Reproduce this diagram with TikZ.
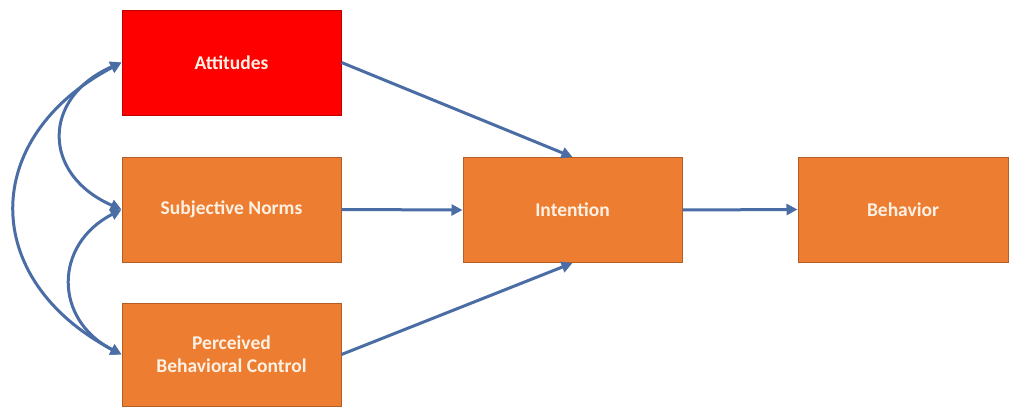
\documentclass[tikz,border=0pt]{standalone}
\usepackage{fontspec}
\setmainfont{Carlito}
\usetikzlibrary{arrows.meta}
\definecolor{boxorange}{HTML}{ED7D31}
\definecolor{boxorangeedge}{HTML}{B45E25}
\definecolor{boxred}{HTML}{FF0000}
\definecolor{boxrededge}{HTML}{C00000}
\definecolor{arrowblue}{HTML}{4A6DA6}
\definecolor{txtcream}{HTML}{FDF1E4}
\tikzset{
  box/.style={rectangle, fill=boxorange, draw=boxorangeedge, line width=1pt,
    minimum width=219pt, minimum height=105pt, inner sep=0pt,
    text=txtcream, font=\fontsize{19.5}{23}\selectfont\bfseries, align=center},
  redbox/.style={box, fill=boxred, draw=boxrededge},
  conn/.style={draw=arrowblue, line width=3pt,
    -{Triangle[length=11pt,width=11pt]}},
  biconn/.style={draw=arrowblue, line width=3pt,
    {Triangle[length=11pt,width=11pt]}-{Triangle[length=11pt,width=11pt]}}
}
\begin{document}
\begin{tikzpicture}[x=1pt,y=-1pt]
\useasboundingbox (0,0) rectangle (1010,407);
\fill[white] (0,0) rectangle (1010,407);
\node[redbox] (att) at (231.5,62.5) {Attitudes};
\node[box] (sn) at (231.5,209.5) {Subjective Norms};
\node[box, minimum height=103pt] (pbc) at (231.5,354.5) {Perceived\\Behavioral Control};
\node[box] (int) at (572.5,210) {Intention};
\node[box, minimum width=210pt] (beh) at (903,209.5) {Behavior};
% straight connectors
\draw[conn] (att.east) -- (int.north);
\draw[conn] (sn.east) -- (int.west);
\draw[conn] (pbc.east) -- (int.south);
\draw[conn] (int.east) -- (beh.west);
% curved correlations
\draw[biconn] (att.west) .. controls +(-80,35) and +(-80,-35) .. (sn.west);
\draw[biconn] (sn.west) .. controls +(-68,35) and +(-68,-35) .. (pbc.west);
\draw[biconn] (att.west) .. controls +(-142,75) and +(-142,-75) .. (pbc.west);
\end{tikzpicture}
\end{document}
